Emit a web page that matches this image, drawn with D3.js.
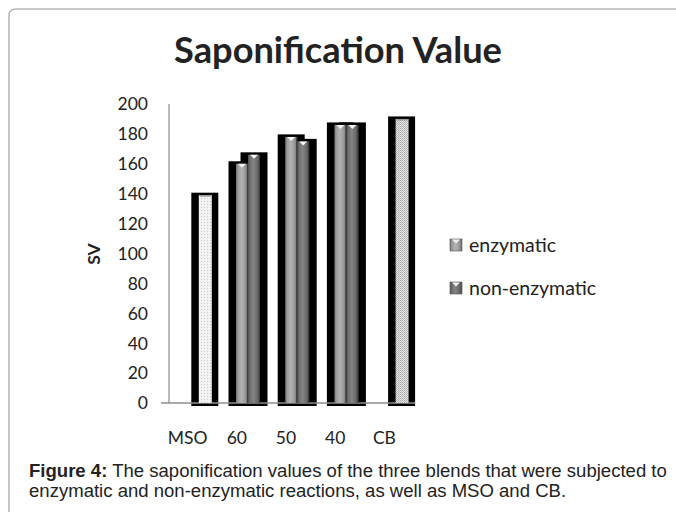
<!DOCTYPE html>
<html><head><meta charset="utf-8">
<script src="https://cdn.jsdelivr.net/npm/d3@7"></script>
<style>body{margin:0;background:#fff}svg{display:block}</style>
</head><body><svg id="c" width="676" height="512"></svg>
<script>
const categories = ["MSO", "60", "50", "40", "CB"];
const enzymatic = [null, 160, 178, 186, null];
const nonEnzymatic = [null, 166, 175, 186, null];
const reference = [139, null, null, null, 190];   // MSO and CB (single bars)
const yTicks = [0, 20, 40, 60, 80, 100, 120, 140, 160, 180, 200];
const seriesNames = ["enzymatic", "non-enzymatic"];

(function () {
const svg = d3.select("#c");
const defs = svg.append("defs");

svg.append("path").attr("d", "M9,512 L9,16 Q9,9 16,9 L676,9")
  .attr("fill", "none").attr("stroke", "#b8b8b8").attr("stroke-width", 1.6);

const pl = 169, pr = 415, pt = 104, pb = 403;
const x = d3.scaleBand().domain(categories).range([pl, pr]);
const y = d3.scaleLinear().domain([0, 200]).range([pb, pt]);
const shift = 5.2, slotW = 12;
const slot = d3.scaleBand().domain([0, 1]).range([0, 2 * slotW]);
const FONT = "Lato, 'Open Sans', sans-serif";

function grad(id, stops) {
  const g = defs.append("linearGradient").attr("id", id).attr("x1", "0").attr("x2", "1").attr("y1", "0").attr("y2", "0");
  stops.forEach(s => g.append("stop").attr("offset", s[0]).attr("stop-color", s[1]));
}
grad("gE", [["0", "#6e6e6e"], ["0.15", "#9a9a9a"], ["0.45", "#b2b2b2"], ["0.75", "#9c9c9c"], ["1", "#6a6a6a"]]);
grad("gN", [["0", "#4e4e4e"], ["0.15", "#6e6e6e"], ["0.45", "#848484"], ["0.75", "#6c6c6c"], ["1", "#4a4a4a"]]);
const pM = defs.append("pattern").attr("id", "pM").attr("width", 3).attr("height", 3).attr("patternUnits", "userSpaceOnUse");
pM.append("rect").attr("width", 3).attr("height", 3).attr("fill", "#f2f2f2");
pM.append("rect").attr("width", 1).attr("height", 1).attr("fill", "#c8c8c8");
const pC = defs.append("pattern").attr("id", "pC").attr("width", 2).attr("height", 2).attr("patternUnits", "userSpaceOnUse");
pC.append("rect").attr("width", 2).attr("height", 2).attr("fill", "#e6e6e6");
pC.append("rect").attr("width", 1).attr("height", 1).attr("fill", "#a8a8a8");
pC.append("rect").attr("x", 1).attr("y", 1).attr("width", 1).attr("height", 1).attr("fill", "#b8b8b8");

const bars = [];
categories.forEach((c, i) => {
  const base = x(c) + x.bandwidth() / 2 - slotW + shift;
  if (enzymatic[i] != null) bars.push({ c, v: enzymatic[i], x0: base + slot(0), fill: "url(#gE)", cap: true });
  if (nonEnzymatic[i] != null) bars.push({ c, v: nonEnzymatic[i], x0: base + slot(1), fill: "url(#gN)", cap: true });
  if (reference[i] != null) bars.push({ c, v: reference[i], x0: base + slot(1), fill: c === "CB" ? "url(#pC)" : "url(#pM)", cap: false, ref: true });
});

svg.append("line").attr("x1", pl).attr("x2", pl).attr("y1", pt).attr("y2", pb).attr("stroke", "#8c8c8c").attr("stroke-width", 1.2);

svg.append("g").selectAll("rect").data(bars).join("rect")
  .attr("x", d => d.x0 - 7.5).attr("width", slotW + 15)
  .attr("y", d => y(d.v) - 2.5).attr("height", d => pb + 3 - (y(d.v) - 2.5))
  .attr("fill", "#000");

svg.append("line").attr("x1", pl - 8).attr("x2", pr).attr("y1", pb).attr("y2", pb).attr("stroke", "#8c8c8c").attr("stroke-width", 1.4);

svg.append("g").selectAll("rect").data(bars).join("rect")
  .attr("x", d => d.x0).attr("width", d => d.ref ? slotW + 1 : slotW)
  .attr("y", d => y(d.v)).attr("height", d => pb - y(d.v))
  .attr("fill", d => d.fill);
svg.append("g").selectAll("line").data(bars.filter(d => d.cap)).join("line")
  .attr("x1", d => d.x0 + slotW - 0.5).attr("x2", d => d.x0 + slotW - 0.5)
  .attr("y1", d => y(d.v)).attr("y2", pb).attr("stroke", "#3c3c3c").attr("stroke-width", 1);
svg.append("g").selectAll("path").data(bars).join("path")
  .attr("d", d => d.cap
    ? `M${d.x0 + 2},${y(d.v)} L${d.x0 + slotW - 2},${y(d.v)} L${d.x0 + slotW / 2},${y(d.v) + 4} Z`
    : `M${d.x0 + 1},${y(d.v)} L${d.x0 + slotW},${y(d.v)} L${d.x0 + slotW},${y(d.v) + 1.5} L${d.x0 + 1},${y(d.v) + 1.5} Z`)
  .attr("fill", d => d.cap ? "#f4f4f4" : "#9a9a9a");

svg.append("g").selectAll("text").data(yTicks).join("text")
  .attr("x", 148).attr("y", d => y(d)).attr("dy", "0.36em")
  .attr("text-anchor", "end").attr("font-family", FONT)
  .attr("font-size", 17.5).attr("fill", "#222").text(d => d);

svg.append("g").selectAll("text").data(categories).join("text")
  .attr("x", d => x(d) + x.bandwidth() / 2 - 6).attr("y", 444)
  .attr("text-anchor", "middle").attr("font-family", FONT)
  .attr("font-size", 17.5).attr("fill", "#222").text(d => d);

svg.append("text").attr("transform", "translate(100,254) rotate(-90)")
  .attr("text-anchor", "middle").attr("font-family", FONT)
  .attr("font-weight", "bold").attr("font-size", 17.5).attr("fill", "#222").text("SV");

const title = svg.append("text").attr("x", 338).attr("y", 63).attr("text-anchor", "middle")
  .attr("font-family", FONT).attr("font-weight", "bold")
  .attr("font-size", 32).attr("fill", "#222").text("Saponification Value");
const tw = title.node().getComputedTextLength();
title.attr("font-size", 32 * 328 / tw);

const lg = svg.append("g").selectAll("g").data(seriesNames).join("g")
  .attr("transform", (d, i) => `translate(450,${239 + i * 43})`);
lg.append("rect").attr("width", 12).attr("height", 12).attr("fill", (d, i) => i === 0 ? "url(#gE)" : "url(#gN)")
  .attr("stroke", "#555").attr("stroke-width", 0.6);
lg.append("path").attr("d", "M2,0.5 L10,0.5 L6,4.5 Z").attr("fill", "#eee");
lg.append("text").attr("x", 19).attr("y", 6).attr("dy", "0.36em")
  .attr("font-family", FONT).attr("font-size", 19.5).attr("fill", "#222").text(d => d);

const cap = svg.append("text").attr("font-family", "'Liberation Sans', Arial, sans-serif").attr("font-size", 16).attr("fill", "#222");
const l1 = cap.append("tspan").attr("x", 29).attr("y", 477);
l1.append("tspan").attr("font-weight", "bold").text("Figure 4:");
l1.append("tspan").text(" The saponification values of the three blends that were subjected to");
const l2 = cap.append("tspan").attr("x", 29).attr("y", 497).text("enzymatic and non-enzymatic reactions, as well as MSO and CB.");
const w1 = l1.node().getComputedTextLength();
cap.attr("font-size", 16 * 638 / w1);
})();
</script></body></html>
